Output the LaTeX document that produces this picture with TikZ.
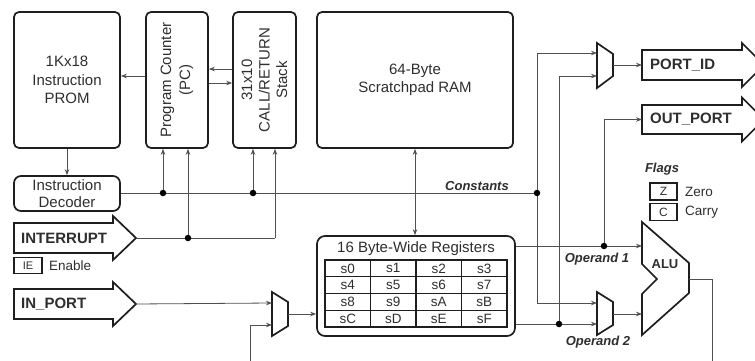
\documentclass[tikz,border=0pt]{standalone}
\usepackage{fontspec}
\setmainfont{Liberation Sans}
\usetikzlibrary{arrows.meta,calc}
\definecolor{ln}{HTML}{505050}
\definecolor{bx}{HTML}{1E1E1E}
\definecolor{tx}{HTML}{2E2E2E}
\tikzset{
  box/.style={draw=bx, line width=1.7pt, rounded corners=5pt, inner sep=0pt},
  btxt/.style={text=tx, align=center, inner sep=0pt, font=\fontsize{15}{18.5}\selectfont},
  wire/.style={draw=ln, line width=0.8pt},
  arr/.style={wire, -{Stealth[length=6pt,width=4.5pt]}},
  jdot/.style={circle, fill=black, inner sep=0pt, minimum size=6.5pt},
  lbl/.style={text=tx, inner sep=0pt, font=\fontsize{13}{15}\selectfont\bfseries\itshape},
  ptxt/.style={text=tx, inner sep=0pt, anchor=west, font=\fontsize{15}{18}\selectfont\bfseries},
  shp/.style={draw=bx, line width=1.7pt, fill=white, line join=miter},
  cell/.style={text=tx, inner sep=0pt, font=\fontsize{13.5}{15}\selectfont},
  small/.style={text=tx, inner sep=0pt, font=\fontsize{13.5}{15}\selectfont},
  flagbox/.style={draw=bx, line width=1.8pt, inner sep=0pt, text=tx, font=\fontsize{12}{14}\selectfont},
}
\begin{document}
\begin{tikzpicture}[x=1pt,y=-1pt]
\useasboundingbox (0,0) rectangle (755,361);

% ---- main boxes
\node[box, minimum width=106pt, minimum height=136pt] (prom) at (67,80) {};
\node[btxt] (promt) at (prom.center) {1Kx18\\Instruction\\PROM};
\node[box, minimum width=62pt, minimum height=136pt] (pc) at (177,80) {};
\node[btxt, rotate=90, font=\fontsize{15}{19}\selectfont] (pct) at (pc.center) {Program Counter\\(PC)};
\node[box, minimum width=63pt, minimum height=136pt] (stack) at (264.5,80) {};
\node[btxt, rotate=90, font=\fontsize{15}{17.5}\selectfont] (stackt) at (stack.center) {31x10\\CALL/RETURN\\Stack};
\node[box, minimum width=196pt, minimum height=136pt] (ram) at (415,80) {};
\node[btxt] (ramt) at (ram.center) {64-Byte\\Scratchpad RAM};
\node[box, rounded corners=7pt, minimum width=106pt, minimum height=35pt] (dec) at (67,193.5) {};
\node[btxt, font=\fontsize{15}{17}\selectfont] (dect) at (dec.center) {Instruction\\Decoder};

% ---- registers
\node[box, rounded corners=8pt, minimum width=198pt, minimum height=100pt] (regs) at (416,286) {};
\node[btxt] (regt) at (416,249) {16 Byte-Wide Registers};
\draw[draw=bx, line width=1.1pt] (325,260) rectangle (507,327);
\foreach \x in {370.5,416,461.5} \draw[draw=bx, line width=1.1pt] (\x,260) -- (\x,327);
\foreach \y in {276.75,293.5,310.25} \draw[draw=bx, line width=1.1pt] (325,\y) -- (507,\y);
\foreach \r/\a/\b/\c/\d in {0/s0/s1/s2/s3,1/s4/s5/s6/s7,2/s8/s9/sA/sB,3/sC/sD/sE/sF}{
  \node[cell] (r\r a) at (347.75,268.4+16.75*\r) {\a};
  \node[cell] (r\r b) at (393.25,268.4+16.75*\r) {\b};
  \node[cell] (r\r c) at (438.75,268.4+16.75*\r) {\c};
  \node[cell] (r\r d) at (484.25,268.4+16.75*\r) {\d};
}

% ---- port arrows
\draw[shp] (14,223) -- (113,223) -- (113,216) -- (136,238) -- (113,260) -- (113,253) -- (14,253) -- cycle;
\node[ptxt] (intt) at (21,238) {INTERRUPT};
\coordinate (intTip) at (136,238);
\draw[shp] (14,289) -- (113,289) -- (113,282) -- (136,304) -- (113,326) -- (113,319) -- (14,319) -- cycle;
\node[ptxt] (inpt) at (21,304) {IN\_PORT};
\coordinate (inTip) at (136,304);
\draw[shp] (642,50) -- (742,50) -- (742,43) -- (764,65) -- (742,87) -- (742,80) -- (642,80) -- cycle;
\node[ptxt] (pidt) at (650,65) {PORT\_ID};
\coordinate (pidIn) at (642,65);
\draw[shp] (642,105) -- (742,105) -- (742,97.5) -- (764,119.5) -- (742,141.5) -- (742,134) -- (642,134) -- cycle;
\node[ptxt] (outt) at (650,119.5) {OUT\_PORT};
\coordinate (outIn) at (642,119.5);

% ---- IE and flags
\node[flagbox, minimum width=28pt, minimum height=16pt, font=\fontsize{11}{13}\selectfont] (ie) at (28,265.5) {IE};
\node[small, anchor=west] (ent) at (49,265.5) {Enable};
\node[lbl] (flt) at (662,169) {Flags};
\node[flagbox, minimum width=27pt, minimum height=17pt] (zb) at (663.5,191.5) {Z};
\node[flagbox, minimum width=27pt, minimum height=17pt] (cb) at (663.5,212) {C};
\node[small, anchor=west] (zt) at (685,191.5) {Zero};
\node[small, anchor=west] (ct) at (685,212) {Carry};

% ---- muxes
\draw[shp] (272,292) -- (288,302) -- (288,326) -- (272,336) -- cycle;
\coordinate (m1a) at (272,303); \coordinate (m1b) at (272,325); \coordinate (m1o) at (288,314);
\draw[shp] (597,292) -- (613,302) -- (613,325) -- (597,335) -- cycle;
\coordinate (m2a) at (597,303); \coordinate (m2b) at (597,324); \coordinate (m2o) at (613,314);
\draw[shp] (597,43) -- (613,54) -- (613,76) -- (597,88) -- cycle;
\coordinate (m3a) at (597,53); \coordinate (m3b) at (597,76); \coordinate (m3o) at (613,65);

% ---- ALU
\draw[shp] (642,222) -- (689,263) -- (689,293) -- (642,335) -- (642,294) -- (657,279) -- (642,264) -- cycle;
\node[text=tx, inner sep=0pt, font=\fontsize{13}{15}\selectfont\bfseries] (alut) at (665,264) {ALU};
\coordinate (aluA) at (642,246); \coordinate (aluB) at (642,314); \coordinate (aluO) at (689,279);

% ---- junctions
\coordinate (j1) at (163,193);
\coordinate (j2) at (253,193);
\coordinate (jc) at (537,193);
\coordinate (ji) at (188,238);
\coordinate (jk) at (275,238);
\coordinate (jo1) at (604,246);
\coordinate (jo2) at (559,324);

% ---- connectors
\draw[arr] (pc.west |- 0,76) -- (prom.east |- 0,76);
\draw[arr] (stack.west |- 0,69) -- (pc.east |- 0,69);
\draw[arr] (pc.east |- 0,83) -- (stack.west |- 0,83);
\draw[arr] (prom.south) -- (dec.north);
\draw[wire] (dec.east |- jc) -- (jc);
\draw[arr] (j1) -- (j1 |- pc.south);
\draw[arr] (j2) -- (j2 |- stack.south);
\draw[wire] (intTip) -- (jk);
\draw[arr] (jk) -- (jk |- stack.south);
\draw[arr] (ji) -- (ji |- pc.south);
\draw[wire, {Stealth[length=6pt,width=4.5pt]}-{Stealth[length=6pt,width=4.5pt]}] (ram.south) -- (ram.south |- regs.north);
\draw[arr] (jc) |- (m3a);
\draw[arr] (jc) |- (m2a);
\draw[arr] (regs.east |- jo2) -- (m2b);
\draw[arr] (jo2) |- (m3b);
\draw[arr] (regs.east |- jo1) -- (aluA);
\draw[arr] (jo1) |- (outIn);
\draw[arr] (m2o) -- (aluB);
\draw[arr] (m3o) -- (pidIn);
\draw[arr] (inTip) -- (m1a);
\draw[arr] (m1o) -- (regs.west |- m1o);
\draw[arr] (aluO) -- (712,279) -- (712,366) -- (250,366) -- (250,325) -- (m1b);

\foreach \j in {j1,j2,jc,ji,jo1,jo2} \node[jdot] at (\j) {};

% ---- labels
\node[lbl] (const) at (477,186) {Constants};
\node[lbl] (op1) at (597,259) {Operand 1};
\node[lbl] (op2) at (598,342) {Operand 2};
\end{tikzpicture}
\end{document}
